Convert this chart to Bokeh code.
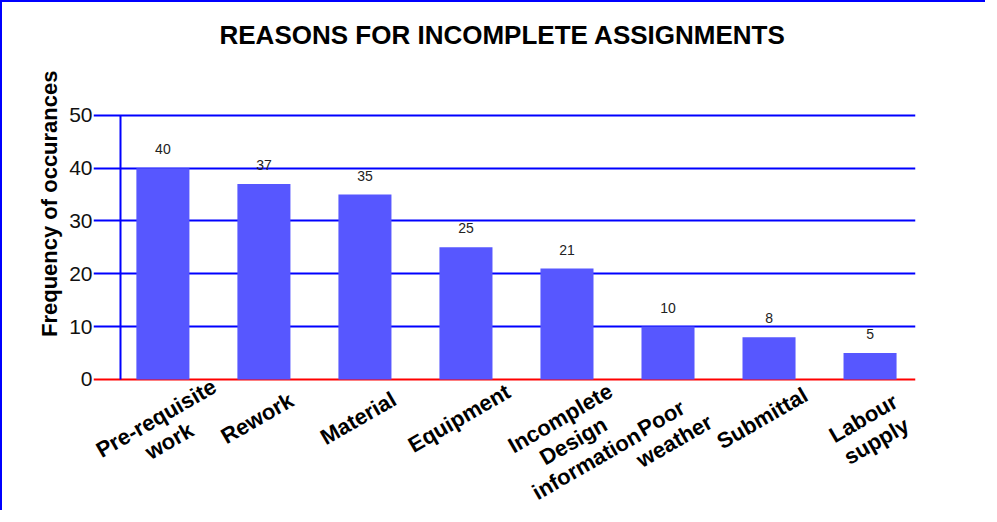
from math import pi
from bokeh.plotting import figure
from bokeh.models import ColumnDataSource, Range1d, FixedTicker, LabelSet, Span, Title, LinearAxis
from bokeh.core.properties import value
from bokeh.embed import file_html
from bokeh.resources import INLINE

# ---- data ----
categories = ["Pre-requisite\nwork", "Rework", "Material", "Equipment",
              "Incomplete\nDesign\ninformation", "Poor\nweather", "Submittal", "Labour\nsupply"]
counts = [40, 37, 35, 25, 21, 10, 8, 5]
y_ticks = [0, 10, 20, 30, 40, 50]

positions = list(range(len(categories)))
source = ColumnDataSource(dict(
    x=positions,
    top=counts,
    label=[str(c) for c in counts],
    cat=categories,
    base=[0] * len(categories),
))

FONT = "Liberation Sans"
BLUE = "#0000FF"
AXIS_X = -0.42          # where the vertical axis line sits (data units)

p = figure(width=985, height=510, output_backend="svg", toolbar_location=None,
           x_range=Range1d(-0.687, len(categories) - 0.55),
           y_range=Range1d(-23.3, 60.0),
           min_border_left=91, min_border_right=72,
           min_border_top=60, min_border_bottom=10)
p.styles = {"border-left": "2px solid #0000FF", "border-top": "2px solid #0000FF"}
p.outline_line_color = None
p.background_fill_color = "white"
p.border_fill_color = "white"

# title
p.title.text = "REASONS FOR INCOMPLETE ASSIGNMENTS"
p.title.align = "left"
p.title.offset = 126
p.title.standoff = 25
p.title.vertical_align = "bottom"
p.title.text_font = FONT
p.title.text_font_size = "26px"
p.title.text_font_style = "bold"
p.title.text_color = "#000000"

# x axis hidden (category names drawn as rotated text below the bars)
p.xaxis.visible = False
p.xgrid.visible = False

# y axis: tick labels at the left edge of the grid lines
p.yaxis.ticker = FixedTicker(ticks=y_ticks)
p.yaxis.axis_line_color = None
p.yaxis.major_tick_line_color = None
p.yaxis.major_tick_out = 0
p.yaxis.major_tick_in = 0
p.yaxis.minor_tick_line_color = None
p.yaxis.major_label_standoff = 1
p.yaxis.major_label_text_font = FONT
p.yaxis.major_label_text_font_size = "21px"
p.yaxis.major_label_text_color = "#111111"

# vertical axis line, drawn a little inside the grid
axis_line = LinearAxis(fixed_location=AXIS_X, ticker=FixedTicker(ticks=[]),
                       bounds=(y_ticks[0], y_ticks[-1]),
                       axis_line_color=BLUE, axis_line_width=2,
                       major_tick_line_color=None, minor_tick_line_color=None)
p.add_layout(axis_line, "left")

p.ygrid.ticker = FixedTicker(ticks=y_ticks[1:])
p.ygrid.grid_line_color = BLUE
p.ygrid.grid_line_width = 2

# y axis title
ylab = Title(text="Frequency of occurances", align="right", offset=8, standoff=10,
             vertical_align="bottom", text_font=FONT, text_font_size="22px",
             text_font_style="bold", text_color="#000000")
p.add_layout(ylab, "left")

zero = Span(location=0, dimension="width", line_color="#FF0000", line_width=2, level="underlay")
p.add_layout(zero)

# bars
p.vbar(x="x", top="top", bottom=0, width=0.525, source=source,
       fill_color="#5757FF", line_color=None)

# value labels
values = LabelSet(x="x", y="top", text="label", source=source,
                  text_align="center", text_baseline="alphabetic", y_offset=14,
                  text_font=value(FONT), text_font_size="14px", text_color="#222222")
p.add_layout(values)

# category labels
p.text(x="x", y="base", text="cat", source=source, angle=pi / 6,
       x_offset=-13, y_offset=28, text_align="center", text_baseline="top",
       text_font=value(FONT), text_font_size="22px", text_font_style="bold",
       text_color="#000000", text_line_height=1.05)

open("out.html", "w").write(file_html(p, INLINE))
